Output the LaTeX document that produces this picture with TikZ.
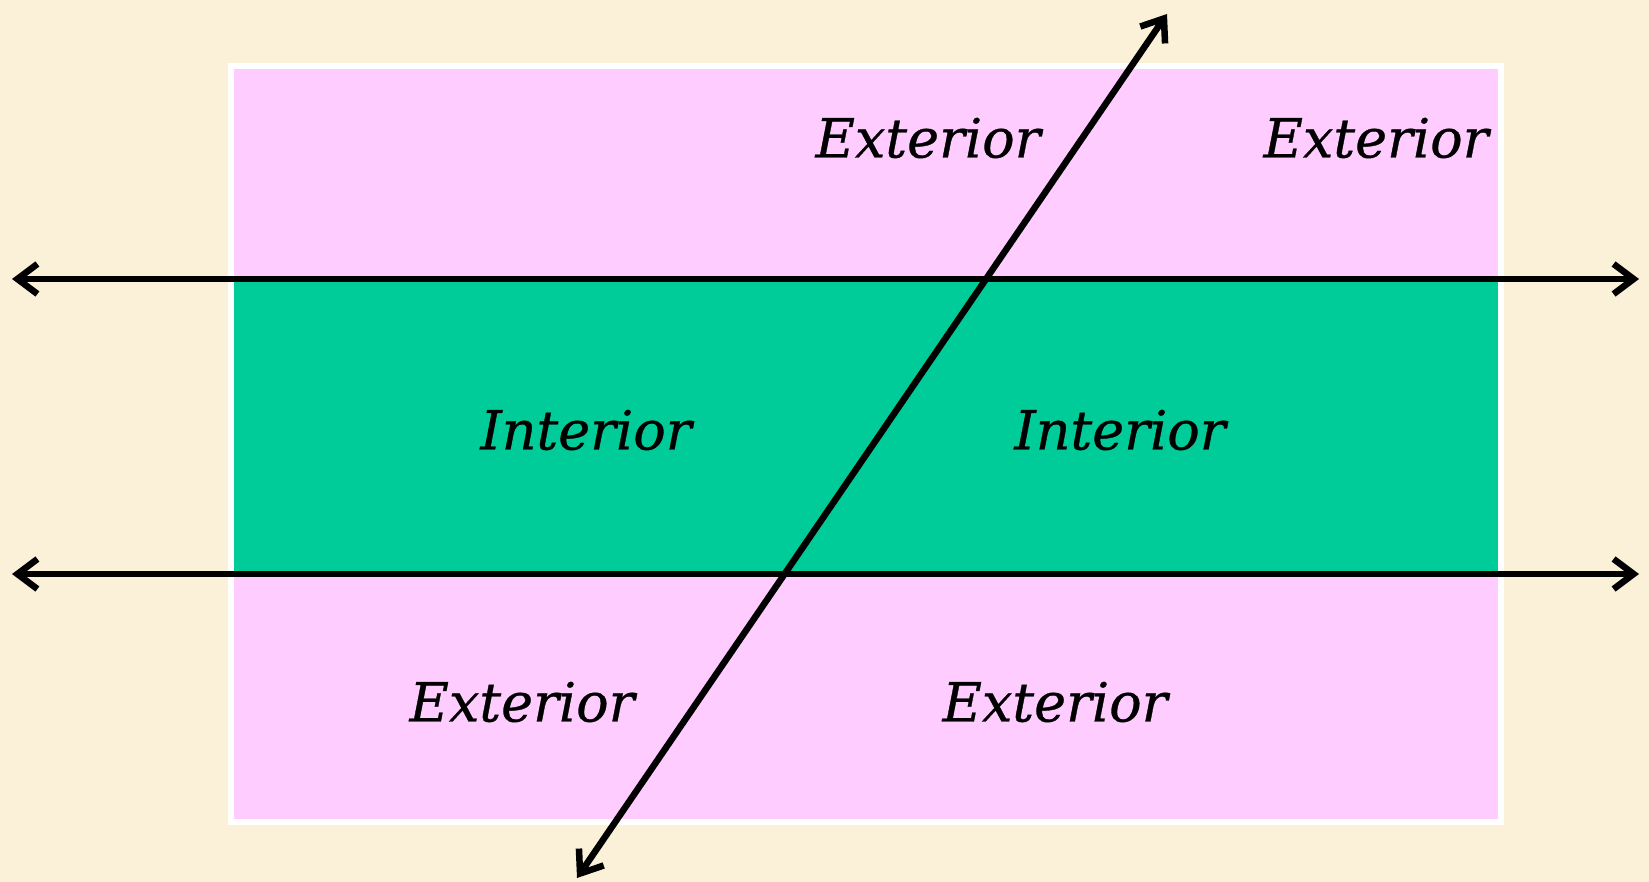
\documentclass[tikz,border=0pt]{standalone}
\usepackage{fontspec}
\newfontfamily\labelfont[FakeBold=0.6]{DejaVu Serif}
\usetikzlibrary{arrows.meta}
\definecolor{parchment}{RGB}{250,241,216}
\definecolor{extpink}{RGB}{255,204,255}
\definecolor{intgreen}{RGB}{0,204,153}
\tikzset{
  region/.style={font=\labelfont\itshape\fontsize{54}{60}\selectfont, inner sep=0pt},
  transline/.style={line width=6.5pt, line cap=round, line join=round,
    {Straight Barb[length=20pt, width=30pt, line width=6.5pt]}-{Straight Barb[length=20pt, width=30pt, line width=6.5pt]}}
}
\begin{document}
\begin{tikzpicture}[x=1pt, y=-1pt]
	\useasboundingbox[fill=parchment] (0,0) rectangle (1649,882);
	% regions
	\filldraw[fill=extpink, draw=white, line width=5.5pt] (231,66) rectangle (1501,822);
	\fill[intgreen] (233.8,279) rectangle (1498.2,574);
	% end points
	\coordinate (l1) at (12,279);
	\coordinate (r1) at (1639,279);
	\coordinate (l2) at (12,574);
	\coordinate (r2) at (1639,574);
	\coordinate (top) at (1167,14);
	\coordinate (bot) at (577,878);
	\draw[transline] (l1) -- (r1);
	\draw[transline] (l2) -- (r2);
	\draw[transline] (bot) -- (top);
	% labels
	\node[region] (ext1) at (928,138) {Exterior};
	\node[region] (ext2) at (1376,138) {Exterior};
	\node[region] (int1) at (586,430) {Interior};
	\node[region] (int2) at (1120,430) {Interior};
	\node[region] (ext3) at (522,702) {Exterior};
	\node[region] (ext4) at (1055,702) {Exterior};
\end{tikzpicture}
\end{document}
